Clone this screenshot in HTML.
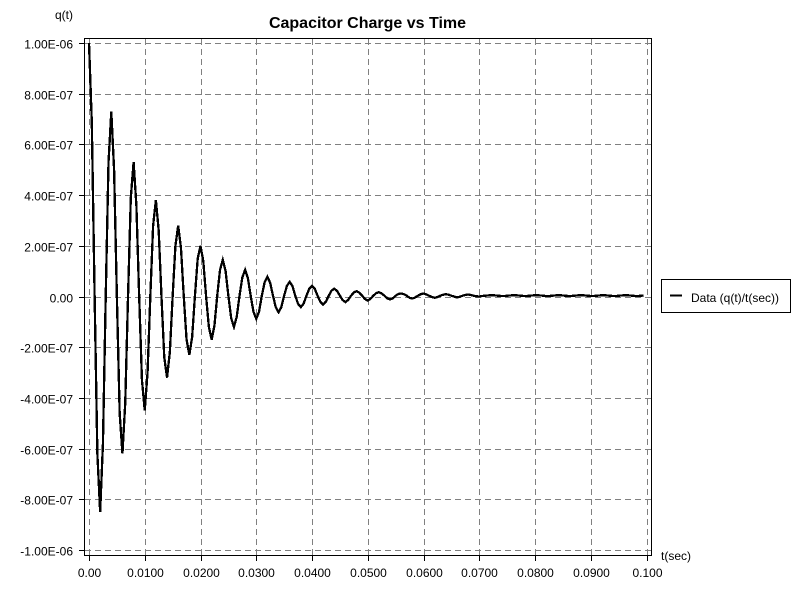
<!DOCTYPE html>
<html>
<head>
<meta charset="utf-8">
<title>Capacitor Charge vs Time</title>
<style>
html,body{margin:0;padding:0;background:#fff;width:800px;height:600px;overflow:hidden}
svg{display:block}
text{font-family:"Liberation Sans",Arial,sans-serif;font-size:12px;fill:#000}
</style>
</head>
<body>
<svg id="chart" width="800" height="600" viewBox="0 0 800 600" xmlns="http://www.w3.org/2000/svg">
<rect x="0" y="0" width="800" height="600" fill="#fff"/>
<text x="367.5" y="28" text-anchor="middle" style="font-size:16px;font-weight:bold">Capacitor Charge vs Time</text>
<text x="73" y="19" text-anchor="end">q(t)</text>
<text x="661" y="560">t(sec)</text>
<g id="grid"></g>
<g id="ticks"></g>
<rect x="84.5" y="38.5" width="567" height="517" fill="none" stroke="#000" stroke-width="1" shape-rendering="crispEdges"/>
<polyline id="series" fill="none" stroke="#000" stroke-width="2.3" stroke-linejoin="miter" shape-rendering="crispEdges"/>
<g>
<rect x="661.5" y="279.5" width="129" height="33" fill="#fff" stroke="#000" stroke-width="1" shape-rendering="crispEdges"/>
<line x1="670" x2="682" y1="295.5" y2="295.5" stroke="#000" stroke-width="2" shape-rendering="crispEdges"/>
<text x="691" y="302">Data (q(t)/t(sec))</text>
</g>
</svg>
<script>
const xTickValues = [0, 0.01, 0.02, 0.03, 0.04, 0.05, 0.06, 0.07, 0.08, 0.09, 0.1];
const xTickLabels = ["0.00", "0.0100", "0.0200", "0.0300", "0.0400", "0.0500", "0.0600", "0.0700", "0.0800", "0.0900", "0.100"];
const yTickValues = [1e-6, 8e-7, 6e-7, 4e-7, 2e-7, 0, -2e-7, -4e-7, -6e-7, -8e-7, -1e-6];
const yTickLabels = ["1.00E-06", "8.00E-07", "6.00E-07", "4.00E-07", "2.00E-07", "0.00", "-2.00E-07", "-4.00E-07", "-6.00E-07", "-8.00E-07", "-1.00E-06"];
const sampleStep = 0.0005;
const seriesUnit = 1e-7;
const chargeValues = [
10,6.9,0.1,-6.2,-8.5,-5.8,0,5.3,7.3,5.0,0,-4.6,-6.2,-4.2,0,3.9,
5.3,3.6,0,-3.3,-4.5,-3.0,0,2.8,3.8,2.6,0,-2.4,-3.2,-2.2,0,2.0,
2.8,1.9,0,-1.7,-2.3,-1.6,0.02,1.5,2.0,1.4,0.02,-1.2,-1.7,-1.15,0.03,1.05,
1.45,1.0,0.03,-0.85,-1.2,-0.8,0.03,0.75,1.05,0.72,0.03,-0.6,-0.88,-0.6,0.03,0.56,
0.78,0.54,0.03,-0.42,-0.62,-0.42,0.03,0.42,0.58,0.41,0.03,-0.29,-0.42,-0.28,0.03,0.3,
0.41,0.3,0.03,-0.21,-0.32,-0.2,0.03,0.23,0.31,0.22,0.03,-0.14,-0.22,-0.13,0.03,0.16,
0.21,0.15,0.03,-0.1,-0.16,-0.09,0.03,0.13,0.17,0.12,0.03,-0.07,-0.12,-0.07,0.03,0.1,
0.12,0.09,0.03,-0.05,-0.08,-0.04,0.03,0.09,0.12,0.08,0.03,-0.02,-0.05,-0.02,0.03,0.07,
0.09,0.07,0.03,0,-0.04,-0.01,0.03,0.06,0.08,0.06,0.03,0.01,0,0.02,0.03,0.04,
0.05,0.05,0.04,0.03,0.02,0.02,0.03,0.04,0.05,0.05,0.04,0.03,0.02,0.02,0.03,0.04,
0.05,0.05,0.04,0.03,0.02,0.02,0.03,0.04,0.05,0.05,0.04,0.03,0.02,0.02,0.03,0.04,
0.05,0.05,0.04,0.03,0.02,0.02,0.03,0.04,0.05,0.05,0.04,0.03,0.02,0.02,0.03,0.04,
0.05,0.05,0.04,0.03,0.02,0.02,0.03,0.04
];

const NS = "http://www.w3.org/2000/svg";
function xScale(t) { return 89 + (t / 0.1) * 557.5; }
function yScale(q) { return 296.5 - (q / 1e-6) * 253.5; }

const gridGroup = document.getElementById("grid");
const tickGroup = document.getElementById("ticks");

xTickValues.forEach(function (v, i) {
  const x = Math.round(xScale(v)) + 0.5;
  const g = document.createElementNS(NS, "line");
  
  
  g.setAttribute("x1", x); g.setAttribute("x2", x);
  g.setAttribute("y1", 39); g.setAttribute("y2", 555);
  g.setAttribute("stroke", "#808080");
  g.setAttribute("stroke-dasharray", "6 4");
  g.setAttribute("shape-rendering", "crispEdges");
  gridGroup.appendChild(g);
  const t = document.createElementNS(NS, "line");
  
  
  t.setAttribute("x1", x); t.setAttribute("x2", x);
  t.setAttribute("y1", 555); t.setAttribute("y2", 561);
  t.setAttribute("stroke", "#000");
  t.setAttribute("shape-rendering", "crispEdges");
  tickGroup.appendChild(t);
  const l = document.createElementNS(NS, "text");
  
  
  l.setAttribute("x", x);
  l.setAttribute("y", 577);
  l.setAttribute("text-anchor", "middle");
  l.textContent = xTickLabels[i];
  tickGroup.appendChild(l);
});

yTickValues.forEach(function (v, i) {
  const y = Math.round(yScale(v)) + 0.5;
  const g = document.createElementNS(NS, "line");
  
  
  g.setAttribute("x1", 85); g.setAttribute("x2", 651);
  g.setAttribute("y1", y); g.setAttribute("y2", y);
  g.setAttribute("stroke", "#808080");
  g.setAttribute("stroke-dasharray", "6 4");
  g.setAttribute("shape-rendering", "crispEdges");
  gridGroup.appendChild(g);
  const t = document.createElementNS(NS, "line");
  
  
  t.setAttribute("x1", 79); t.setAttribute("x2", 85);
  t.setAttribute("y1", y); t.setAttribute("y2", y);
  t.setAttribute("stroke", "#000");
  t.setAttribute("shape-rendering", "crispEdges");
  tickGroup.appendChild(t);
  const l = document.createElementNS(NS, "text");
  
  
  l.setAttribute("x", 73);
  l.setAttribute("y", y + 5);
  l.setAttribute("text-anchor", "end");
  l.textContent = yTickLabels[i];
  tickGroup.appendChild(l);
});

const points = chargeValues.map(function (v, i) {
  return xScale(i * sampleStep).toFixed(2) + "," + yScale(v * seriesUnit).toFixed(2);
});
document.getElementById("series").setAttribute("points", points.join(" "));
</script>
</body>
</html>
